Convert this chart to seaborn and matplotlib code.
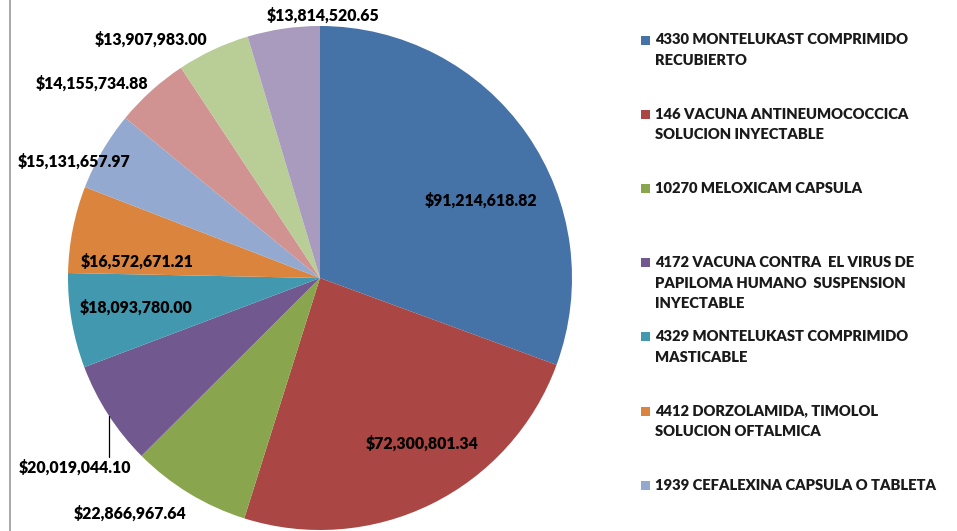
import numpy as np
import matplotlib
matplotlib.use("Agg")
import matplotlib.pyplot as plt
import seaborn as sns
from matplotlib.lines import Line2D
from matplotlib.patches import Rectangle

# ---------------- data ----------------
legend_labels = [
    "4330 MONTELUKAST COMPRIMIDO\nRECUBIERTO",
    "146 VACUNA ANTINEUMOCOCCICA\nSOLUCION INYECTABLE",
    "10270 MELOXICAM CAPSULA",
    "4172 VACUNA CONTRA  EL VIRUS DE\nPAPILOMA HUMANO  SUSPENSION\nINYECTABLE",
    "4329 MONTELUKAST COMPRIMIDO\nMASTICABLE",
    "4412 DORZOLAMIDA, TIMOLOL\nSOLUCION OFTALMICA",
    "1939 CEFALEXINA CAPSULA O TABLETA",
]
values = [91214618.82, 72300801.34, 22866967.64, 20019044.10, 18093780.00,
          16572671.21, 15131657.97, 14155734.88, 13907983.00, 13814520.65]
colors = ["#4572A7", "#AA4643", "#89A54E", "#71588F", "#4198AF",
          "#DB843D", "#93A9CF", "#D19392", "#B9CD96", "#A99BBD"]

# label placement (angle offset from wedge middle, distance in radii)
label_angle_offset = [-9.2, 5.4, -7.7, 4.8, -0.6, 6.1, 4.9, 7.6, 10.3, -9.0]
label_dist = [0.71, 0.77, 1.20, 1.23, 0.74, 0.73, 1.08, 1.19, 1.16, 1.04]

# ---------------- style ----------------
sns.set_theme(style="white")
plt.rcParams["font.family"] = ["Lato", "DejaVu Sans"]

W, H = 957, 531
fig = plt.figure(figsize=(W / 100, H / 100), dpi=100)
fig.patch.set_facecolor("white")

cx, cy, R = 320, 278, 252  # pie centre/radius in px
ax = fig.add_axes([0, 0, 1, 1])
palette = sns.color_palette(colors)
wedges, _ = ax.pie(values, colors=palette, startangle=90, counterclock=False,
                   radius=1.0, wedgeprops=dict(linewidth=0))
ax.set_aspect("auto")
ax.set_xlim(-cx / R, (W - cx) / R)
ax.set_ylim(-(H - cy) / R, cy / R)
ax.axis("off")

lab_fs = 11.4
for w, v, off, d in zip(wedges, values, label_angle_offset, label_dist):
    mid = np.deg2rad((w.theta1 + w.theta2) / 2 + off)
    x, y = d * np.cos(mid), d * np.sin(mid)
    ax.text(x, y, f"${v:,.2f}", ha="center", va="center", fontsize=lab_fs,
            fontweight=800, color="black")

# leader line for the purple slice label
w = wedges[3]
mid = np.deg2rad((w.theta1 + w.theta2) / 2 + label_angle_offset[3])
lx, ly = label_dist[3] * np.cos(mid), label_dist[3] * np.sin(mid)
xline = lx + 35 / R
yedge = -np.sqrt(1 - xline ** 2)
ax.plot([xline, xline], [yedge, ly + 10 / R], color="black", lw=0.9)

# left frame line
fig.add_artist(Line2D([10 / W, 10 / W], [0, 1], transform=fig.transFigure,
                      color="#9a9a9a", lw=1.2))

# ---------------- legend ----------------
leg_fs = 10.6
first, step = 40, 74.2
for i, lab in enumerate(legend_labels):
    yc = first + i * step
    fig.add_artist(Rectangle((641 / W, 1 - (yc + 4.5) / H), 9 / W, 9 / H,
                             transform=fig.transFigure, facecolor=colors[i],
                             edgecolor="none"))
    fig.text(655 / W, 1 - (yc - 6.5) / H, lab, ha="left", va="top",
             fontsize=leg_fs, fontweight=800, color="#1a1a1a",
             linespacing=1.68)

fig.savefig("out.png", dpi=100, facecolor="white")
